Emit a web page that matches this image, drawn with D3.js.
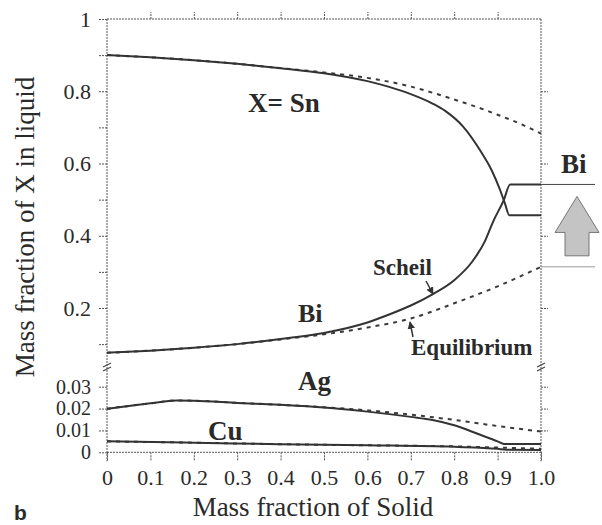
<!doctype html>
<html>
<head>
<meta charset="utf-8"/>
<script src="https://d3js.org/d3.v7.min.js"></script>
<style>
  body { margin: 0; background: #fff; }
  text { fill: #2a2a2a; }
</style>
</head>
<body>
<svg id="chart"></svg>
<script>
// mass fraction of solid vs mass fraction of X in liquid, [fs, value]
var snScheil = [[0,0.900],[0.1,0.894],[0.2,0.886],[0.3,0.876],[0.4,0.864],[0.5,0.850],[0.6,0.828],[0.65,0.812],[0.7,0.792],[0.75,0.766],[0.78,0.745],[0.82,0.703],[0.86,0.636],[0.886,0.582],[0.906,0.526],[0.917,0.489],[0.927,0.457],[1.0,0.457]];
var snEquil  = [[0,0.900],[0.1,0.894],[0.2,0.886],[0.3,0.876],[0.4,0.864],[0.5,0.852],[0.6,0.837],[0.7,0.813],[0.75,0.796],[0.8,0.777],[0.86,0.753],[0.9,0.735],[0.95,0.711],[1.0,0.683]];
var biScheil = [[0,0.076],[0.1,0.082],[0.2,0.090],[0.3,0.100],[0.4,0.114],[0.5,0.131],[0.6,0.160],[0.65,0.182],[0.7,0.207],[0.75,0.238],[0.8,0.277],[0.84,0.326],[0.87,0.383],[0.89,0.440],[0.914,0.498],[0.929,0.542],[1.0,0.542]];
var biEquil  = [[0,0.076],[0.1,0.082],[0.2,0.090],[0.3,0.100],[0.4,0.113],[0.5,0.127],[0.6,0.146],[0.7,0.171],[0.8,0.213],[0.9,0.260],[1.0,0.314]];
var agScheil = [[0,0.0199],[0.05,0.0212],[0.1,0.0224],[0.16,0.0237],[0.2,0.0236],[0.3,0.0226],[0.4,0.0217],[0.5,0.0205],[0.6,0.0186],[0.7,0.0162],[0.75,0.0148],[0.8,0.0124],[0.86,0.0080],[0.9,0.0050],[0.915,0.0038],[1.0,0.0038]];
var agEquil  = [[0,0.0199],[0.05,0.0212],[0.1,0.0224],[0.16,0.0237],[0.2,0.0236],[0.3,0.0226],[0.4,0.0217],[0.5,0.0206],[0.6,0.0192],[0.7,0.0172],[0.8,0.0148],[0.9,0.0120],[1.0,0.0095]];
var cuScheil = [[0,0.0050],[0.2,0.0044],[0.4,0.0037],[0.6,0.0032],[0.8,0.0025],[0.9,0.0016],[0.92,0.0012],[1.0,0.0011]];
var cuEquil  = [[0,0.0050],[0.2,0.0044],[0.4,0.0037],[0.6,0.0032],[0.8,0.0027],[0.9,0.0022],[1.0,0.0016]];

var xTicks = [0,0.1,0.2,0.3,0.4,0.5,0.6,0.7,0.8,0.9,1.0];
var upTicks = [0.1,0.2,0.3,0.4,0.5,0.6,0.7,0.8,0.9,1.0];
var upLabels = [0.2,0.4,0.6,0.8,1.0];
var loTicks = [0,0.01,0.02,0.03];

var W = 602, H = 525;
var padL = 107, padR = 541, padT = 19, padB = 452.3;
var serif = "'Liberation Serif', 'Times New Roman', Times, serif";

var svg = d3.select("#chart").attr("width", W).attr("height", H);

var x = d3.scaleLinear().domain([0, 1]).range([padL, padR]);
var yUp = d3.scaleLinear().domain([0, 1]).range([380.25, padT]);    // upper panel
var yLo = d3.scaleLinear().domain([0, 0.03]).range([padB, 386.7]);  // lower panel (broken axis)

var axisCol = "#555";

function styleAxis(size) {
  return function(g) {
    g.select(".domain").remove();
    g.selectAll(".tick line").attr("stroke", axisCol).attr("stroke-width", 1).attr("stroke-dasharray", "2,1");
    g.selectAll(".tick text").attr("font-size", size).attr("font-family", serif).attr("fill", "#2a2a2a");
  };
}

// frame lines
svg.append("line").attr("x1", padL).attr("x2", padL).attr("y1", padT).attr("y2", padB + 9)
  .attr("stroke", axisCol).attr("stroke-dasharray", "2,1");
svg.append("line").attr("x1", padR).attr("x2", padR).attr("y1", padT).attr("y2", padB + 9)
  .attr("stroke", axisCol).attr("stroke-dasharray", "2,1");
svg.append("line").attr("x1", padL).attr("x2", padR).attr("y1", padT).attr("y2", padT)
  .attr("stroke", axisCol).attr("stroke-dasharray", "2,1");
svg.append("line").attr("x1", padL).attr("x2", padR).attr("y1", padB).attr("y2", padB)
  .attr("stroke", axisCol).attr("stroke-dasharray", "2,1");

// left axes
svg.append("g").attr("transform", "translate(" + padL + ",0)")
  .call(d3.axisLeft(yUp).tickValues(upTicks).tickSize(9).tickPadding(7)
    .tickFormat(function(d) {
      if (d === 1) return "1";
      return upLabels.some(function(v) { return Math.abs(v - d) < 1e-9; }) ? d3.format(".1f")(d) : "";
    }))
  .call(styleAxis(22));
svg.append("g").attr("transform", "translate(" + padL + ",0)")
  .call(d3.axisLeft(yLo).tickValues(loTicks).tickSize(9).tickPadding(7)
    .tickFormat(function(d) { return d === 0 ? "0" : d3.format(".2f")(d); }))
  .call(styleAxis(20));

// right axes (ticks only)
svg.append("g").attr("transform", "translate(" + padR + ",0)")
  .call(d3.axisRight(yUp).tickValues([0.2,0.4,0.6,0.8]).tickSize(7).tickFormat(""))
  .call(styleAxis(22));
svg.append("g").attr("transform", "translate(" + padR + ",0)")
  .call(d3.axisRight(yLo).tickValues([0.01,0.02,0.03]).tickSize(7).tickFormat(""))
  .call(styleAxis(22));

// bottom / top axes
svg.append("g").attr("transform", "translate(0," + padB + ")")
  .call(d3.axisBottom(x).tickValues(xTicks).tickSize(9).tickPadding(8)
    .tickFormat(function(d) { return d === 0 ? "0" : d3.format(".1f")(d); }))
  .call(styleAxis(22));
svg.append("g").attr("transform", "translate(0," + padT + ")")
  .call(d3.axisTop(x).tickValues(xTicks.slice(1, 10)).tickSize(7).tickFormat(""))
  .call(styleAxis(22));

// axis break marks
[padL, padR].forEach(function(bx) {
  [-2, 2].forEach(function(o) {
    svg.append("line").attr("x1", bx - 4).attr("x2", bx + 4)
      .attr("y1", 367 + o + 2).attr("y2", 367 + o - 2)
      .attr("stroke", "#444").attr("stroke-width", 1.2);
  });
});

// curves
var lineUp = d3.line().x(function(d) { return x(d[0]); }).y(function(d) { return yUp(d[1]); }).curve(d3.curveMonotoneX);
var lineLo = d3.line().x(function(d) { return x(d[0]); }).y(function(d) { return yLo(d[1]); }).curve(d3.curveMonotoneX);

var curves = [
  {d: snEquil, l: lineUp, dash: true}, {d: biEquil, l: lineUp, dash: true},
  {d: agEquil, l: lineLo, dash: true}, {d: cuEquil, l: lineLo, dash: true},
  {d: snScheil, l: lineUp, dash: false}, {d: biScheil, l: lineUp, dash: false},
  {d: agScheil, l: lineLo, dash: false}, {d: cuScheil, l: lineLo, dash: false}
];
curves.forEach(function(c) {
  svg.append("path").attr("d", c.l(c.d))
    .attr("fill", "none")
    .attr("stroke", c.dash ? "#3a3a3a" : "#333")
    .attr("stroke-width", 2)
    .attr("stroke-dasharray", c.dash ? "4,5" : null);
});

// Bi bracket and arrow on the right
var biTop = yUp(biScheil[biScheil.length - 1][1]);
var biBot = yUp(biEquil[biEquil.length - 1][1]);
svg.append("line").attr("x1", padR).attr("x2", 595).attr("y1", biTop).attr("y2", biTop)
  .attr("stroke", "#444").attr("stroke-width", 1);
svg.append("line").attr("x1", padR).attr("x2", 595).attr("y1", biBot).attr("y2", biBot)
  .attr("stroke", "#999").attr("stroke-width", 1);
var ax = 577;
svg.append("path")
  .attr("d", "M" + ax + "," + (biTop + 12) + " L" + (ax + 22) + "," + (biTop + 48) + " L" + (ax + 12) + "," + (biTop + 48) +
    " L" + (ax + 12) + "," + (biBot - 11) + " L" + (ax - 12) + "," + (biBot - 11) + " L" + (ax - 12) + "," + (biTop + 48) +
    " L" + (ax - 22) + "," + (biTop + 48) + " Z")
  .attr("fill", "#c4c4c4").attr("stroke", "#777").attr("stroke-width", 1);

// labels
function label(t, lx, ly, size) {
  return svg.append("text").attr("x", lx).attr("y", ly).attr("font-size", size)
    .attr("font-family", serif).attr("font-weight", "bold").text(t);
}
label("X= Sn", 248, 112, 27);
label("Bi", 298, 322, 26);
label("Scheil", 373, 275, 23);
label("Equilibrium", 411, 355, 23);
label("Ag", 298, 390, 27);
label("Cu", 208, 440, 27);
label("Bi", 561, 173, 27);
svg.append("text").attr("x", 14).attr("y", 520).attr("font-size", 21).attr("font-weight", "bold")
  .attr("font-family", "'Liberation Sans', Arial, sans-serif").attr("fill", "#222").text("b");

// pointer arrows
svg.append("defs").append("marker").attr("id", "ah").attr("viewBox", "0 0 10 10")
  .attr("refX", 9).attr("refY", 5).attr("markerWidth", 5).attr("markerHeight", 5).attr("orient", "auto")
  .append("path").attr("d", "M0,0 L10,5 L0,10 Z").attr("fill", "#333");
svg.append("line").attr("x1", 426).attr("y1", 281).attr("x2", 433).attr("y2", 294)
  .attr("stroke", "#333").attr("stroke-width", 1.5).attr("marker-end", "url(#ah)");
svg.append("line").attr("x1", 413).attr("y1", 337).attr("x2", 410).attr("y2", 322)
  .attr("stroke", "#333").attr("stroke-width", 1.5).attr("marker-end", "url(#ah)");

// axis titles
svg.append("text").attr("transform", "translate(34,227) rotate(-90)").attr("text-anchor", "middle")
  .attr("font-family", serif).attr("font-size", 27).text("Mass fraction of X in liquid");
svg.append("text").attr("x", 313).attr("y", 516).attr("text-anchor", "middle")
  .attr("font-family", serif).attr("font-size", 27).text("Mass fraction of Solid");
</script>
</body>
</html>
